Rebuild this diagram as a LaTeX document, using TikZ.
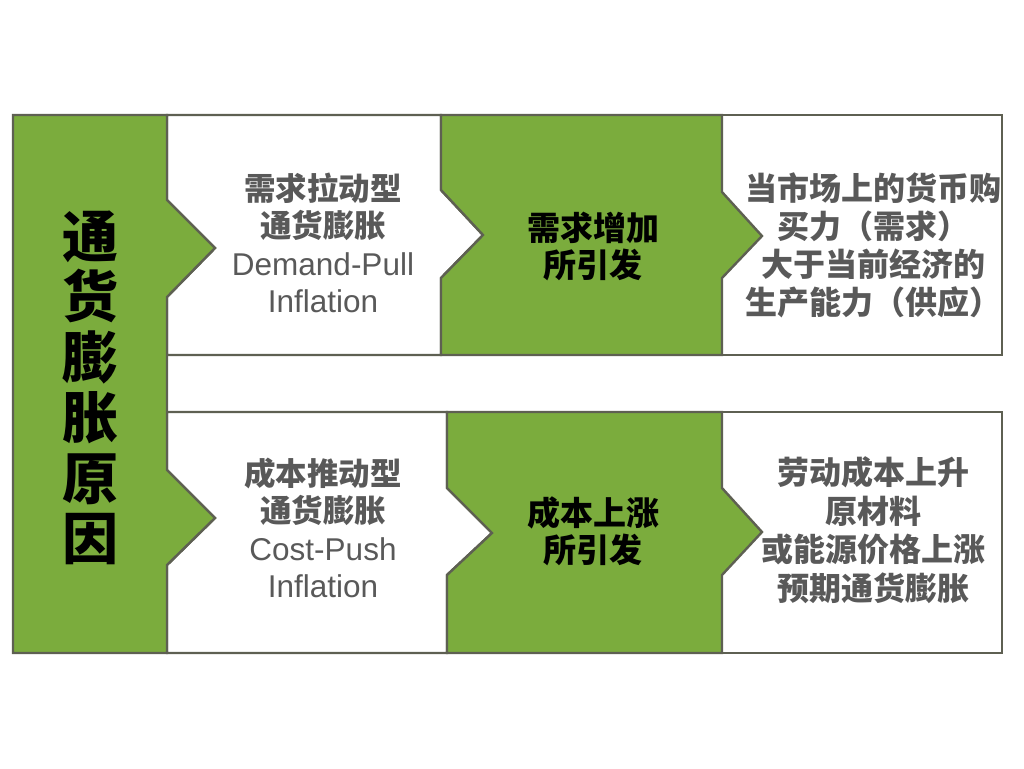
\documentclass[tikz,border=0pt]{standalone}
\usepackage{fontspec}
\setmainfont{Liberation Sans}
\newfontfamily\cjk{Noto Sans CJK SC}
\definecolor{leaf}{HTML}{7BAC3D}
\definecolor{edge}{HTML}{5E6052}
\definecolor{txtgray}{HTML}{595959}
\tikzset{
  greenshape/.style={fill=leaf,draw=edge,line width=2.4pt,line join=miter},
  whiteshape/.style={fill=white,draw=edge,line width=2.4pt,line join=miter},
  graytext/.style={text=txtgray,align=center,inner sep=0pt,font=\fontsize{31.5}{37.5}\selectfont},
  blacktext/.style={text=black,align=center,inner sep=0pt,font=\fontsize{33}{37}\selectfont\cjk\bfseries},
}
\begin{document}
\begin{tikzpicture}[x=1pt,y=-1pt]
\useasboundingbox (0,0) rectangle (1024,768);
% white boxes
\draw[whiteshape] (167,115)--(441,115)--(441,190)--(483,235)--(441,278)--(441,355)--(167,355)--(167,297)--(215,248)--(167,200)--cycle;
\draw[whiteshape] (722,115)--(1002,115)--(1002,355)--(722,355)--cycle;
\draw[whiteshape] (167,412)--(447,412)--(447,488)--(492,533)--(447,575)--(447,653)--(167,653)--(167,565)--(215,518)--(167,470)--cycle;
\draw[whiteshape] (722,412)--(1002,412)--(1002,653)--(722,653)--cycle;
% green shapes
\draw[greenshape] (13,115)--(167,115)--(167,200)--(215,248)--(167,297)--(167,470)--(215,518)--(167,565)--(167,653)--(13,653)--cycle;
\draw[greenshape] (441,115)--(722,115)--(722,192)--(762,236)--(722,278)--(722,355)--(441,355)--(441,278)--(483,235)--(441,190)--cycle;
\draw[greenshape] (447,412)--(722,412)--(722,488)--(762,532)--(722,575)--(722,653)--(447,653)--(447,575)--(492,533)--(447,488)--cycle;
% texts
\node[text=black,align=center,inner sep=0pt,font=\fontsize{56}{60.5}\selectfont\cjk\bfseries] (title) at (90,388) {通\\货\\膨\\胀\\原\\因};
\node[graytext] (demand) at (323,243) {{\cjk\bfseries 需求拉动型}\\{\cjk\bfseries 通货膨胀}\\Demand-Pull\\Inflation};
\node[blacktext] (demandcause) at (593,246.5) {需求增加\\所引发};
\node[graytext,font=\fontsize{32}{38}\selectfont\cjk\bfseries] (demanddesc) at (873,245) {当市场上的货币购\\买力（需求）\\大于当前经济的\\生产能力（供应）};
\node[graytext] (cost) at (323,528) {{\cjk\bfseries 成本推动型}\\{\cjk\bfseries 通货膨胀}\\Cost-Push\\Inflation};
\node[blacktext] (costcause) at (593,531) {成本上涨\\所引发};
\node[graytext,font=\fontsize{32}{38.5}\selectfont\cjk\bfseries] (costdesc) at (873,530) {劳动成本上升\\原材料\\或能源价格上涨\\预期通货膨胀};
\end{tikzpicture}
\end{document}
